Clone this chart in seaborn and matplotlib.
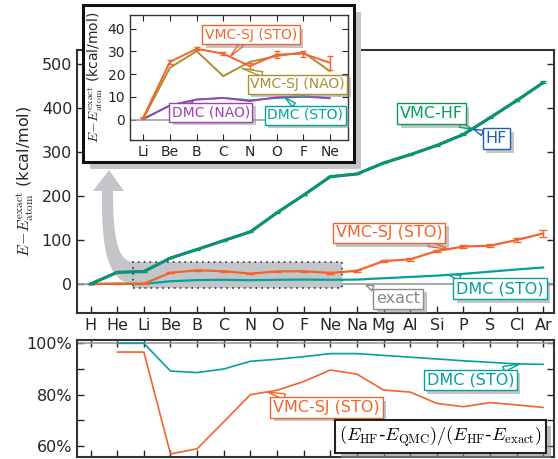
import matplotlib
matplotlib.use("Agg")
import numpy as np
import pandas as pd
import matplotlib.pyplot as plt
import matplotlib.patheffects as pe
from matplotlib.patches import Rectangle, PathPatch
from matplotlib.path import Path
import seaborn as sns

# data (kcal/mol)
elements = ["H", "He", "Li", "Be", "B", "C", "N", "O", "F", "Ne",
            "Na", "Mg", "Al", "Si", "P", "S", "Cl", "Ar"]
hf = [0, 26.5, 28.3, 59.0, 78.5, 98.7, 118.6, 162.0, 202.0, 244.0,
      250.0, 275.0, 294.0, 315.0, 340.0, 378.0, 417.0, 458.0]
vmc_hf = [0, 26.6, 28.4, 59.1, 78.6, 98.8, 118.8, 162.2, 202.3, 244.3,
          250.4, 275.3, 294.4, 315.4, 340.5, 378.5, 417.5, 458.8]
vmc_hf_sd = [0, 0.3, 0.3, 0.4, 0.5, 0.6, 0.7, 0.8, 0.9, 1.0,
             1.2, 1.3, 1.4, 1.5, 1.7, 1.8, 2.0, 2.2]
vmc_sj = [0, 0.9, 1.0, 25.4, 31.1, 29.0, 23.5, 28.6, 29.0, 25.0,
          30.0, 52.0, 56.0, 75.0, 85.0, 87.0, 100.0, 115.0]
vmc_sj_sd = [0, 0.2, 0.3, 1.0, 0.7, 0.8, 1.2, 1.5, 1.3, 3.0,
             2.0, 3.0, 3.0, 3.0, 4.0, 4.0, 5.0, 8.0]
dmc_sto = [0, 0.0, 0.1, 6.2, 8.8, 9.5, 8.5, 9.5, 10.0, 9.5,
           10.0, 13.0, 16.0, 19.0, 23.0, 28.0, 33.0, 37.5]

# inset, Li..Ne, NAO basis
inset_elements = elements[2:10]
vmc_nao = [0.5, 22.8, 30.1, 19.1, 25.4, 27.9, 29.6, 21.3]
dmc_nao = [0.4, 6.2, 8.8, 9.5, 8.1, 9.8, 10.3, 9.4]

# fraction of correlation energy, He..Ar (%)
frac_elements = elements[1:]
frac_dmc = [100, 100, 89.2, 88.6, 90.0, 93.0, 93.8, 94.8, 96.0,
            96.0, 95.3, 94.6, 93.9, 93.2, 92.6, 92.0, 91.8]
frac_vmc = [96.6, 96.6, 56.9, 58.9, 69.4, 80.0, 81.7, 85.1, 89.6,
            88.0, 81.8, 81.0, 76.6, 75.3, 76.9, 76.0, 75.0]

green = "#00a05a"
orange = "#f2642a"
teal = "#00a29a"
blue = "#1f5fb0"
olive = "#a89030"
purple = "#a040b0"
grey = "#8a8a8a"
fill = "#c4c5c9"

sns.set_style("ticks")
plt.rcParams["font.family"] = ["DejaVu Sans"]
plt.rcParams["mathtext.fontset"] = "cm"
plt.rcParams["axes.edgecolor"] = "#333333"

W, H = 558, 459
fig = plt.figure(figsize=(W / 100, H / 100), dpi=100)


def fr(x, y):
    return x / W, 1 - y / H


def callout(axis, text, xy, xytext, color, size):
    a = axis.annotate(text, xy=xy, xytext=xytext, ha="center", va="center",
                      fontsize=size, color=color, zorder=20, annotation_clip=False,
                      bbox=dict(boxstyle="square,pad=0.18", fc="white", ec=color, lw=1),
                      arrowprops=dict(arrowstyle="wedge,tail_width=0.35,shrink_factor=0.5",
                                      fc="white", ec=color, lw=1, shrinkA=0, shrinkB=0))
    a.get_bbox_patch().set_path_effects(
        [pe.withSimplePatchShadow(offset=(2.5, -2.5), shadow_rgbFace="0.55", alpha=0.5)])
    return a


xs = np.arange(len(elements))
main = pd.DataFrame({"x": xs, "hf": hf, "vmc_hf": vmc_hf, "vmc_sj": vmc_sj, "dmc": dmc_sto})

# ---------------- main panel ----------------
ax = fig.add_axes([*fr(77, 313), 477 / W, 263 / H])
ax.axhline(0, color="0.6", lw=1.2, zorder=1)
ax.add_patch(Rectangle((1.6, -10), 7.85, 60, fc=fill, ec="#333333", lw=1.2,
                       ls=(0, (1, 2.5)), zorder=1.5))

# big grey arrow from the box up to the inset
verts = [fr(102, 191), fr(93, 191), fr(109, 170), fr(124, 191), fr(113, 191),
         fr(113, 240), fr(118, 262), fr(134, 262), fr(134, 284),
         fr(108, 283), fr(101, 250), fr(102, 191)]
codes = [Path.MOVETO, Path.LINETO, Path.LINETO, Path.LINETO, Path.LINETO,
         Path.CURVE4, Path.CURVE4, Path.CURVE4, Path.LINETO,
         Path.CURVE4, Path.CURVE4, Path.CURVE4]
ax.add_patch(PathPatch(Path(verts, codes), fc=fill, ec="none",
                       transform=fig.transFigure, zorder=1.4))

sns.lineplot(data=main, x="x", y="dmc", ax=ax, color=teal, lw=1.6, zorder=3)
sns.lineplot(data=main, x="x", y="vmc_sj", ax=ax, color=orange, lw=1.6, zorder=3)
ax.errorbar(xs, vmc_sj, yerr=vmc_sj_sd, fmt="none", ecolor=orange, elinewidth=1,
            capsize=3, capthick=1, zorder=3)
sns.lineplot(data=main, x="x", y="hf", ax=ax, color=blue, lw=2.2, zorder=3)
sns.lineplot(data=main, x="x", y="vmc_hf", ax=ax, color=green, lw=1.6, zorder=3)
ax.errorbar(xs, vmc_hf, yerr=vmc_hf_sd, fmt="none", ecolor=green, elinewidth=1,
            capsize=2.5, capthick=1, zorder=3)

ax.set_xlim(-0.51, 17.4)
ax.set_ylim(-66, 532)
ax.set_xticks(xs)
ax.set_xticklabels(elements)
ax.set_yticks(range(0, 501, 100))
ax.set_xlabel("")
ax.set_ylabel(r"$E\!-\!E^{\rm exact}_{\rm atom}$ (kcal/mol)", fontsize=11.5)
ax.yaxis.set_label_coords(-0.085, 0.5)
ax.tick_params(direction="in", length=5, width=1, labelsize=11.5, right=True, top=False)
for s in ax.spines.values():
    s.set_linewidth(1.5)
    s.set_visible(True)

callout(ax, "VMC-HF", (14.33, 352), (12.8, 387), green, 11.5)
callout(ax, "HF", (14.38, 352), (15.24, 330), blue, 11.5)
callout(ax, "VMC-SJ (STO)", (13.45, 79), (11.2, 116), orange, 11.5)
callout(ax, "DMC (STO)", (13.43, 21), (15.37, -11), teal, 11.5)
callout(ax, "exact", (10.35, -3), (11.55, -34), grey, 11.5)

# ---------------- lower panel ----------------
axl = fig.add_axes([*fr(77, 457), 477 / W, 117 / H])
frac = pd.DataFrame({"x": xs[1:], "dmc": frac_dmc, "vmc": frac_vmc})
axl.axhline(100, color="0.6", lw=1.2, zorder=1)
sns.lineplot(data=frac, x="x", y="dmc", ax=axl, color=teal, lw=1.2, zorder=3)
sns.lineplot(data=frac, x="x", y="vmc", ax=axl, color=orange, lw=1.2, zorder=3)
axl.set_xlim(-0.51, 17.4)
axl.set_ylim(55.7, 101.3)
axl.set_xticks(xs)
axl.set_xticklabels([])
axl.set_yticks([60, 80, 100])
axl.set_yticks([70, 90], minor=True)
axl.set_yticklabels(["60%", "80%", "100%"])
axl.set_xlabel("")
axl.set_ylabel("")
axl.tick_params(which="both", direction="in", length=5, width=1, labelsize=11.5,
                right=True, top=True)
for s in axl.spines.values():
    s.set_linewidth(1.5)
    s.set_visible(True)

callout(axl, "DMC (STO)", (16.12, 92.0), (14.26, 85.7), teal, 11.5)
callout(axl, "VMC-SJ (STO)", (6.63, 81.0), (8.86, 75.0), orange, 11.5)
formula = axl.text(13.13, 63.7,
                   r"$(E_{\rm HF}$-$E_{\rm QMC})/(E_{\rm HF}$-$E_{\rm exact})$",
                   ha="center", va="center", fontsize=13, color="black", zorder=20,
                   bbox=dict(boxstyle="square,pad=0.2", fc="white", ec="#222222", lw=1.5))
formula.get_bbox_patch().set_path_effects(
    [pe.withSimplePatchShadow(offset=(4, -4), shadow_rgbFace="0.55", alpha=0.6)])

# ---------------- inset ----------------
fig.add_artist(Rectangle(fr(90, 169), 271 / W, 157 / H, transform=fig.transFigure,
                         fc=fill, ec="none", zorder=5))
fig.add_artist(Rectangle(fr(83, 162), 271 / W, 157 / H, transform=fig.transFigure,
                         fc="white", ec="#111111", lw=2.2, zorder=6))

ins = fig.add_axes([*fr(130, 140), 218 / W, 125 / H])
ins.set_zorder(10)
ix = xs[2:10]
inset = pd.DataFrame({"x": ix, "vmc_sto": vmc_sj[2:10], "vmc_nao": vmc_nao,
                      "dmc_sto": dmc_sto[2:10], "dmc_nao": dmc_nao})
ins.axhline(0, color="0.6", lw=1.1, zorder=1)
sns.lineplot(data=inset, x="x", y="dmc_sto", ax=ins, color=teal, lw=1.3, zorder=3)
sns.lineplot(data=inset, x="x", y="dmc_nao", ax=ins, color=purple, lw=1.3, zorder=3)
sns.lineplot(data=inset, x="x", y="vmc_nao", ax=ins, color=olive, lw=1.4, zorder=3)
sns.lineplot(data=inset, x="x", y="vmc_sto", ax=ins, color=orange, lw=1.4, zorder=3)
ins.errorbar(ix, vmc_sj[2:10], yerr=vmc_sj_sd[2:10], fmt="none", ecolor=orange,
             elinewidth=1, capsize=2.5, capthick=1, zorder=3)
ins.set_xlim(1.5, 9.68)
ins.set_ylim(-9, 46)
ins.set_xticks(ix)
ins.set_xticklabels(inset_elements)
ins.set_yticks(range(0, 41, 10))
ins.set_xlabel("")
ins.set_ylabel(r"$E\!-\!E^{\rm exact}_{\rm atom}$ (kcal/mol)", fontsize=10, labelpad=2)
ins.tick_params(direction="in", length=4, width=0.8, labelsize=10, right=True, top=True)
for s in ins.spines.values():
    s.set_linewidth(1.0)
    s.set_visible(True)

callout(ins, "VMC-SJ (STO)", (5.26, 27.8), (6.04, 37.4), orange, 10)
callout(ins, "VMC-SJ (NAO)", (5.7, 22.5), (7.78, 15.6), olive, 10)
callout(ins, "DMC (NAO)", (3.76, 8.0), (4.53, 3.1), purple, 10)
callout(ins, "DMC (STO)", (7.33, 9.6), (8.08, 2.0), teal, 10)

fig.savefig("out.png", dpi=100)
